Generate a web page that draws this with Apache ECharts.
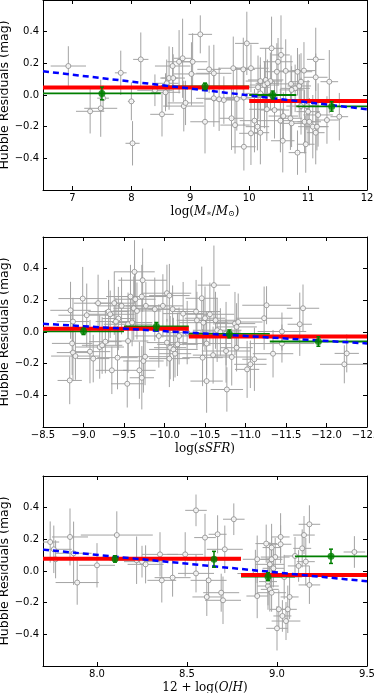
<!DOCTYPE html>
<html>
<head>
<meta charset="utf-8">
<script src="https://cdn.jsdelivr.net/npm/echarts@6/dist/echarts.min.js"></script>
<style>
html, body { margin: 0; padding: 0; background: #fff; }
#main { width: 374px; height: 693px; }
</style>
</head>
<body>
<div id="main"></div>
<script>
// galaxies: [x, residual, xErr, residualErr]
const massPoints = [
	[6.93, 0.183, 0.3, 0.125], [7.30, -0.103, 0.24, 0.14], [7.48, -0.084, 0.28, 0.18], [7.52, -0.02, 0.1, 0.08],
	[7.82, 0.14, 0.1, 0.14], [8.00, -0.04, 0.06, 0.12], [8.02, -0.305, 0.12, 0.14], [8.16, 0.225, 0.13, 0.17],
	[8.52, -0.122, 0.2, 0.14], [8.40, 0.03, 0.3, 0.1], [8.58, 0.017, 0.25, 0.12], [8.60, 0.074, 0.2, 0.15],
	[8.64, 0.107, 0.15, 0.2], [8.71, 0.107, 0.2, 0.15], [8.70, 0.183, 0.3, 0.12], [8.81, 0.21, 0.2, 0.2],
	[8.87, 0.232, 0.15, 0.25], [8.89, -0.07, 0.35, 0.16], [9.04, 0.21, 0.25, 0.18], [9.02, 0.133, 0.3, 0.2],
	[9.17, 0.383, 0.2, 0.12], [9.25, -0.169, 0.25, 0.2], [9.32, 0.162, 0.2, 0.15], [8.92, -0.05, 0.3, 0.14],
	[9.96, 0.326, 0.2, 0.2], [10.38, 0.295, 0.2, 0.2], [10.54, 0.253, 0.15, 0.25], [10.49, 0.21, 0.25, 0.15],
	[11.13, 0.225, 0.15, 0.2], [9.40, 0.137, 0.3, 0.18], [9.73, 0.169, 0.25, 0.2], [9.90, 0.162, 0.2, 0.2],
	[10.03, 0.169, 0.3, 0.15], [10.47, 0.147, 0.2, 0.18], [10.62, 0.152, 0.2, 0.2], [10.82, 0.147, 0.25, 0.15],
	[10.93, 0.154, 0.2, 0.18], [11.13, 0.112, 0.2, 0.15], [11.36, 0.084, 0.15, 0.2], [10.19, 0.088, 0.25, 0.15],
	[10.28, 0.095, 0.3, 0.2], [10.36, 0.088, 0.2, 0.18], [10.26, 0.063, 0.25, 0.15], [10.15, 0.049, 0.2, 0.2],
	[10.71, 0.07, 0.2, 0.18], [10.78, 0.042, 0.25, 0.15], [10.85, 0.057, 0.2, 0.2], [10.88, 0.084, 0.15, 0.18],
	[10.72, 0.032, 0.2, 0.15], [9.40, -0.021, 0.3, 0.18], [9.49, -0.027, 0.25, 0.2], [9.57, -0.032, 0.2, 0.15],
	[9.79, -0.025, 0.25, 0.2], [9.91, -0.015, 0.3, 0.18], [9.70, -0.147, 0.2, 0.2], [9.76, -0.19, 0.25, 0.18],
	[9.91, -0.327, 0.2, 0.15], [10.03, -0.242, 0.2, 0.2], [10.09, -0.162, 0.25, 0.2], [10.14, -0.2, 0.2, 0.15],
	[10.19, -0.238, 0.15, 0.2], [10.30, -0.09, 0.3, 0.2], [10.43, -0.095, 0.25, 0.18], [10.53, -0.162, 0.2, 0.2],
	[10.57, -0.289, 0.2, 0.2], [10.58, -0.133, 0.25, 0.15], [10.70, -0.147, 0.2, 0.2], [10.72, -0.179, 0.2, 0.15],
	[10.82, -0.364, 0.15, 0.14], [10.94, -0.169, 0.2, 0.2], [10.96, -0.311, 0.15, 0.18], [11.02, -0.169, 0.2, 0.15],
	[11.08, -0.2, 0.25, 0.2], [11.15, -0.2, 0.2, 0.15], [11.13, -0.238, 0.15, 0.2], [11.32, -0.158, 0.2, 0.15],
	[11.17, -0.126, 0.25, 0.2], [10.98, -0.07, 0.2, 0.15], [10.88, -0.07, 0.25, 0.18], [11.00, -0.105, 0.2, 0.2],
	[11.53, -0.137, 0.15, 0.15], [10.31, 0.074, 0.2, 0.15], [10.19, 0.01, 0.25, 0.18], [10.26, -0.01, 0.2, 0.2]
];
const ssfrPoints = [
	[-8.84, 0.137, 0.25, 0.18], [-8.99, 0.211, 0.3, 0.2], [-8.87, 0.066, 0.2, 0.15], [-9.04, 0.106, 0.35, 0.2],
	[-9.18, 0.182, 0.3, 0.18], [-9.31, 0.129, 0.25, 0.2], [-9.33, 0.112, 0.3, 0.15], [-9.38, 0.182, 0.25, 0.2],
	[-9.47, 0.165, 0.3, 0.18], [-9.43, 0.085, 0.2, 0.2], [-9.40, 0.066, 0.25, 0.15], [-9.58, 0.224, 0.3, 0.2],
	[-9.64, 0.207, 0.25, 0.18], [-9.72, 0.224, 0.3, 0.2], [-9.62, 0.15, 0.25, 0.2], [-9.66, 0.133, 0.3, 0.18],
	[-9.63, 0.38, 0.25, 0.2], [-9.73, 0.327, 0.3, 0.2], [-9.77, 0.165, 0.25, 0.15], [-9.88, 0.144, 0.3, 0.2],
	[-9.98, 0.165, 0.25, 0.2], [-10.03, 0.245, 0.3, 0.18], [-10.06, 0.23, 0.25, 0.2], [-10.10, 0.144, 0.3, 0.15],
	[-10.23, 0.116, 0.25, 0.2], [-9.55, 0.049, 0.3, 0.2], [-9.60, 0.06, 0.25, 0.15], [-8.86, -0.072, 0.25, 0.2],
	[-8.87, -0.13, 0.2, 0.18], [-8.90, -0.152, 0.3, 0.15], [-9.08, -0.124, 0.25, 0.2], [-9.12, -0.168, 0.2, 0.15],
	[-9.20, -0.095, 0.3, 0.2], [-9.23, -0.084, 0.25, 0.18], [-9.27, -0.061, 0.2, 0.2], [-8.83, -0.306, 0.15, 0.15],
	[-9.35, -0.242, 0.2, 0.15], [-9.42, -0.162, 0.25, 0.2], [-9.54, -0.327, 0.2, 0.15], [-9.55, -0.057, 0.25, 0.2],
	[-9.69, -0.242, 0.2, 0.18], [-9.72, -0.289, 0.15, 0.2], [-9.74, -0.183, 0.25, 0.2], [-9.76, -0.156, 0.3, 0.18],
	[-9.93, -0.025, 0.3, 0.2], [-10.03, -0.067, 0.25, 0.15], [-10.07, -0.099, 0.2, 0.2], [-10.06, -0.168, 0.25, 0.18],
	[-10.11, -0.11, 0.3, 0.2], [-10.13, -0.137, 0.2, 0.15], [-10.16, -0.078, 0.25, 0.2], [-10.18, -0.025, 0.3, 0.18],
	[-10.28, -0.004, 0.25, 0.2], [-10.39, 0.129, 0.3, 0.2], [-10.40, 0.074, 0.25, 0.18], [-10.46, 0.213, 0.2, 0.2],
	[-10.48, 0.059, 0.3, 0.15], [-10.50, 0.087, 0.25, 0.2], [-10.52, -0.31, 0.2, 0.2], [-10.47, -0.162, 0.25, 0.18],
	[-10.61, 0.296, 0.2, 0.25], [-10.56, 0.112, 0.3, 0.2], [-10.63, 0.074, 0.25, 0.18], [-10.65, 0.011, 0.3, 0.2],
	[-10.69, 0.0, 0.25, 0.15], [-10.76, -0.01, 0.3, 0.2], [-10.87, 0.053, 0.25, 0.2], [-10.91, 0.063, 0.3, 0.18],
	[-10.89, 0.032, 0.25, 0.15], [-10.52, -0.073, 0.3, 0.2], [-10.60, -0.146, 0.25, 0.18], [-10.76, -0.12, 0.3, 0.2],
	[-10.83, -0.158, 0.25, 0.18], [-10.89, -0.099, 0.2, 0.15], [-10.77, -0.363, 0.2, 0.14], [-11.02, -0.236, 0.15, 0.18],
	[-11.06, -0.204, 0.2, 0.15], [-11.11, -0.172, 0.15, 0.2], [-11.26, 0.169, 0.3, 0.12], [-11.23, 0.087, 0.35, 0.2],
	[-11.34, -0.137, 0.25, 0.15], [-11.45, 0.003, 0.3, 0.12], [-11.45, -0.073, 0.4, 0.12], [-11.71, 0.15, 0.2, 0.15],
	[-11.67, 0.049, 0.15, 0.2], [-12.25, -0.135, 0.15, 0.12], [-12.22, -0.204, 0.3, 0.12]
];
const ohPoints = [
	[7.74, 0.183, 0.05, 0.13], [7.76, 0.137, 0.1, 0.15], [7.77, 0.074, 0.06, 0.12], [7.85, 0.215, 0.1, 0.18],
	[7.87, 0.112, 0.1, 0.2], [7.89, -0.073, 0.12, 0.14], [8.00, 0.036, 0.1, 0.14], [8.11, 0.227, 0.2, 0.15],
	[8.22, 0.068, 0.15, 0.15], [8.25, 0.059, 0.1, 0.1], [8.27, 0.042, 0.1, 0.12], [8.35, 0.105, 0.1, 0.14],
	[8.36, -0.059, 0.08, 0.14], [8.42, -0.042, 0.1, 0.12], [8.49, 0.105, 0.1, 0.14], [8.55, 0.383, 0.06, 0.1],
	[8.55, -0.015, 0.1, 0.12], [8.60, 0.211, 0.06, 0.15], [8.61, -0.164, 0.08, 0.12], [8.62, -0.059, 0.1, 0.12],
	[8.67, 0.232, 0.05, 0.12], [8.71, 0.137, 0.1, 0.15], [8.76, 0.327, 0.06, 0.1], [8.69, -0.137, 0.1, 0.12],
	[8.70, -0.185, 0.1, 0.15], [8.89, 0.074, 0.08, 0.15], [8.88, -0.016, 0.1, 0.15], [8.89, -0.158, 0.06, 0.14],
	[8.94, 0.173, 0.06, 0.12], [8.97, 0.148, 0.05, 0.15], [8.99, 0.088, 0.08, 0.12], [8.97, 0.074, 0.06, 0.14],
	[9.02, 0.215, 0.05, 0.15], [9.02, 0.169, 0.06, 0.12], [8.96, 0.042, 0.08, 0.14], [8.98, 0.017, 0.06, 0.12],
	[8.95, -0.095, 0.06, 0.15], [8.96, -0.116, 0.05, 0.14], [8.97, -0.137, 0.08, 0.12], [8.95, -0.067, 0.05, 0.15],
	[9.04, -0.038, 0.1, 0.14], [9.01, -0.242, 0.05, 0.12], [9.03, -0.284, 0.05, 0.1], [9.05, -0.316, 0.08, 0.12],
	[9.06, -0.242, 0.05, 0.15], [9.07, -0.164, 0.05, 0.14], [9.00, -0.362, 0.06, 0.14], [9.10, 0.095, 0.06, 0.12],
	[9.12, 0.032, 0.06, 0.1], [9.14, 0.143, 0.05, 0.12], [9.15, 0.227, 0.06, 0.12], [9.18, 0.295, 0.06, 0.12],
	[9.16, 0.059, 0.05, 0.15], [9.18, -0.088, 0.06, 0.12], [9.43, 0.12, 0.06, 0.1]
];

// binned means (green): [binStart, binEnd, meanX, meanY, err]
const massBins = [[6.5, 8.5, 7.5, 0.01, 0.04], [8.5, 10, 9.25, 0.055, 0.02], [10, 10.8, 10.4, 0.0, 0.025], [10.8, 12, 11.4, -0.072, 0.03]];
const ssfrBins = [[-8.5, -9.5, -9.0, 0.004, 0.02], [-9.5, -10.3, -9.9, 0.035, 0.025], [-10.3, -11.3, -10.8, -0.012, 0.025], [-11.3, -12.5, -11.9, -0.06, 0.03]];
const ohBins = [[7.7, 8.5, 8.1, 0.076, 0.02], [8.5, 8.8, 8.65, 0.074, 0.05], [8.8, 9.1, 8.95, -0.036, 0.025], [9.1, 9.5, 9.3, 0.093, 0.045]];

// step (red): [start, end, level]
const massSteps = [[6.5, 10, 0.048], [10, 12, -0.038]];
const ssfrSteps = [[-8.5, -10.3, 0.02], [-10.3, -12.5, -0.028]];
const ohSteps = [[7.7, 8.8, 0.078], [8.8, 9.5, -0.025]];

// linear fits (blue dashed)
const massFit = [[6.5, 0.15], [12, -0.09]];
const ssfrFit = [[-8.5, 0.052], [-12.5, -0.072]];
const ohFit = [[7.7, 0.135], [9.5, -0.065]];

// tick values
const massTicks = [7, 8, 9, 10, 11, 12];
const ssfrTicks = [-8.5, -9, -9.5, -10, -10.5, -11, -11.5, -12, -12.5];
const ohTicks = [8.0, 8.5, 9.0, 9.5];
const residTicks = [-0.4, -0.2, 0, 0.2, 0.4];

const minus = (s) => s.replace('-', '\u2212');

function errorBars(params, api) {
	const x = api.value(0), y = api.value(1), ex = api.value(2), ey = api.value(3);
	const a = api.coord([x - ex, y]), b = api.coord([x + ex, y]);
	const c = api.coord([x, y - ey]), d = api.coord([x, y + ey]);
	const st = { stroke: '#a3a3a3', lineWidth: 1 };
	return {
		type: 'group',
		children: [
			{ type: 'line', shape: { x1: a[0], y1: a[1], x2: b[0], y2: b[1] }, style: st },
			{ type: 'line', shape: { x1: c[0], y1: c[1], x2: d[0], y2: d[1] }, style: st }
		]
	};
}

// horizontal segment from dim 0 to dim 1 at the level stored in dim `level`
function segment(color, width, level) {
	return function (params, api) {
		const a = api.coord([api.value(0), api.value(level)]);
		const b = api.coord([api.value(1), api.value(level)]);
		return {
			type: 'line',
			shape: { x1: a[0], y1: a[1], x2: b[0], y2: b[1] },
			style: { stroke: color, lineWidth: width }
		};
	};
}

function binError(params, api) {
	const x = api.value(2), y = api.value(3), e = api.value(4);
	const lo = api.coord([x, y - e]), hi = api.coord([x, y + e]);
	const st = { stroke: '#007f00', lineWidth: 1.5 };
	return {
		type: 'group',
		children: [
			{ type: 'line', shape: { x1: lo[0], y1: lo[1], x2: hi[0], y2: hi[1] }, style: st },
			{ type: 'line', shape: { x1: lo[0] - 2, y1: lo[1], x2: lo[0] + 2, y2: lo[1] }, style: st },
			{ type: 'line', shape: { x1: hi[0] - 2, y1: hi[1], x2: hi[0] + 2, y2: hi[1] }, style: st }
		]
	};
}

const panels = [
	{ points: massPoints, bins: massBins, steps: massSteps, fit: massFit, ticks: massTicks, min: 6.5, max: 12, inverse: false,
		fmt: (v) => String(Math.round(v)),
		name: '{t|log(}{i|M}{s|\u2217}{t|/}{i|M}{s|\u2299}{t|)}' },
	{ points: ssfrPoints, bins: ssfrBins, steps: ssfrSteps, fit: ssfrFit, ticks: ssfrTicks, min: -12.5, max: -8.5, inverse: true,
		fmt: (v) => minus(v.toFixed(1)),
		name: '{t|log(}{i|sSFR}{t|)}' },
	{ points: ohPoints, bins: ohBins, steps: ohSteps, fit: ohFit, ticks: ohTicks, min: 7.7, max: 9.5, inverse: false,
		fmt: (v) => v.toFixed(1),
		name: '{t|12 + log(}{i|O}{t|/}{i|H}{t|)}' }
];

const tops = [0, 237, 476];
const grid = tops.map((t) => ({ left: 43, top: t, width: 324, height: 190, outerBoundsMode: 'none' }));

const lineStyle = { color: '#000', width: 1 };
const tickFont = { color: '#000', fontSize: 10, fontFamily: 'DejaVu Sans' };
const serif = { fontFamily: 'DejaVu Serif', fontSize: 12, color: '#000' };

const xAxis = [];
const yAxis = [];
panels.forEach((p, i) => {
	xAxis.push({
		gridIndex: i, type: 'value', min: p.min, max: p.max, inverse: p.inverse,
		axisLine: { onZero: false, lineStyle },
		axisTick: { inside: true, length: 4, lineStyle, customValues: p.ticks },
		axisLabel: { ...tickFont, margin: 3, customValues: p.ticks, formatter: p.fmt },
		splitLine: { show: false },
		name: p.name, nameLocation: 'middle', nameGap: 16,
		nameTextStyle: {
			rich: {
				t: serif,
				i: { ...serif, fontStyle: 'italic' },
				s: { ...serif, fontSize: 8, verticalAlign: 'bottom' }
			}
		}
	});
	yAxis.push({
		gridIndex: i, type: 'value', min: -0.6, max: 0.6,
		axisLine: { onZero: false, lineStyle },
		axisTick: { inside: true, length: 4, lineStyle, customValues: residTicks },
		axisLabel: { ...tickFont, margin: 4, customValues: residTicks,
			formatter: (v) => (Math.abs(v) < 1e-9 ? '0.0' : minus(v.toFixed(1))) },
		splitLine: { show: false },
		name: 'Hubble Residuals (mag)', nameLocation: 'middle', nameGap: 32, nameMoveOverlap: false,
		nameTextStyle: { color: '#000', fontSize: 12.5, fontFamily: 'DejaVu Sans' }
	});
});
// mirrored ticks on top and right
panels.forEach((p, i) => {
	xAxis.push({
		gridIndex: i, type: 'value', position: 'top', min: p.min, max: p.max, inverse: p.inverse,
		axisLine: { onZero: false, lineStyle },
		axisTick: { inside: true, length: 4, lineStyle, customValues: p.ticks },
		axisLabel: { show: false }, splitLine: { show: false }
	});
	yAxis.push({
		gridIndex: i, type: 'value', position: 'right', min: -0.6, max: 0.6,
		axisLine: { onZero: false, lineStyle },
		axisTick: { inside: true, length: 4, lineStyle, customValues: residTicks },
		axisLabel: { show: false }, splitLine: { show: false }
	});
});

const series = [];
panels.forEach((p, i) => {
	const ax = { xAxisIndex: i, yAxisIndex: i, silent: true };
	series.push({ ...ax, type: 'custom', z: 1, clip: true, renderItem: errorBars, encode: { x: 0, y: 1 }, data: p.points });
	series.push({ ...ax, type: 'scatter', z: 2, symbol: 'circle', symbolSize: 5,
		itemStyle: { color: '#fff', borderColor: '#8a8a8a', borderWidth: 1 },
		data: p.points.map((d) => [d[0], d[1]]) });
	series.push({ ...ax, type: 'custom', z: 3, clip: true, renderItem: segment('#007f00', 1.8, 3), encode: { x: [0, 1], y: 3 }, data: p.bins });
	series.push({ ...ax, type: 'custom', z: 4, clip: true, renderItem: segment('#ff0000', 4, 2), encode: { x: [0, 1], y: 2 }, data: p.steps });
	series.push({ ...ax, type: 'line', z: 5, data: p.fit, showSymbol: false,
		lineStyle: { color: '#0000ff', width: 2.5, type: [6, 4] } });
	series.push({ ...ax, type: 'custom', z: 6, clip: true, renderItem: binError, encode: { x: 2, y: 3 }, data: p.bins });
	series.push({ ...ax, type: 'scatter', z: 7, symbol: 'circle', symbolSize: 7,
		itemStyle: { color: '#007f00' },
		data: p.bins.map((b) => [b[2], b[3]]) });
});

const myChart = echarts.init(document.getElementById('main'));
myChart.setOption({
	animation: false,
	backgroundColor: '#fff',
	grid,
	xAxis,
	yAxis,
	series
});
</script>
</body>
</html>
